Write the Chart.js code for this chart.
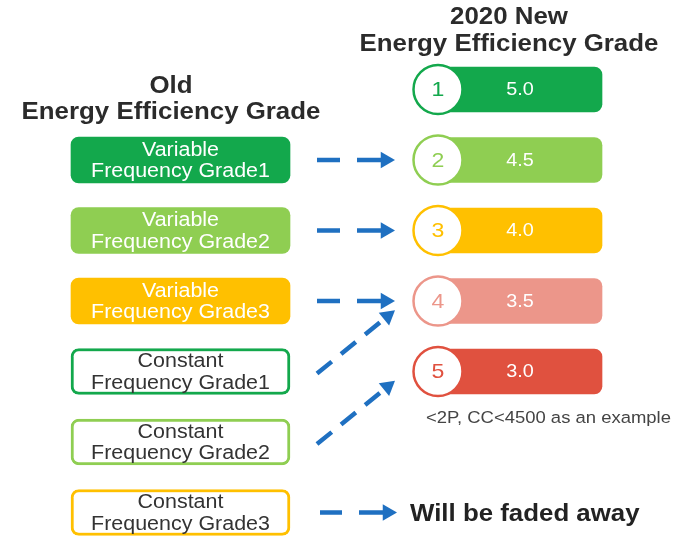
<!DOCTYPE html>
<html>
<head>
<meta charset="utf-8">
<title>Energy Efficiency Grade</title>
<script src="https://cdn.jsdelivr.net/npm/chart.js@4.4.1/dist/chart.umd.min.js"></script>
<style>
    html, body { margin: 0; padding: 0; background: #fff; }
    #grade-wrap { position: relative; width: 682px; height: 536px; }
</style>
</head>
<body>
<div id="grade-wrap"><canvas id="grade-chart"></canvas></div>
<script>
// old grades (left column)
var oldGrades = [
    ['Variable', 'Frequency Grade1'],
    ['Variable', 'Frequency Grade2'],
    ['Variable', 'Frequency Grade3'],
    ['Constant', 'Frequency Grade1'],
    ['Constant', 'Frequency Grade2'],
    ['Constant', 'Frequency Grade3']
];
// 2020 new grades (right column)
var newGrades = ['1', '2', '3', '4', '5'];
var newValues = [5.0, 4.5, 4.0, 3.5, 3.0];
// new grade index each old grade moves to, null = faded away
var oldToNew = [1, 2, 3, 3, 4, null];

var oldTitle = ['Old', 'Energy Efficiency Grade'];
var newTitle = ['2020 New', 'Energy Efficiency Grade'];
var fadedText = 'Will be faded away';
var noteText = '<2P, CC<4500 as an example';

// colours
var gradeColors = ['#13a84c', '#8fce52', '#ffc000', '#ec968a', '#e0513f'];
var arrowBlue = '#1f70c1';
var FONT = '"Liberation Sans", Arial, sans-serif';

// layout: one y unit = one row, left row i at i, new grade j at j - 1
var ROW_PX = 70.5;
var ROW0_PX = 160;
var H = 536, W = 682;

function oldColor(i) {
    return gradeColors[i % 3];
}

var oldBoxes = oldGrades.map(function (g, i) {
    return { x: [71, 290], y: i };
});
var newBoxes = newValues.map(function (v, j) {
    return { x: [428, 602], y: j - 1 };
});
var newCircles = newGrades.map(function (g, j) {
    return { x: 438, y: j - 1 };
});

var datasets = [];

datasets.push({
    type: 'bar',
    indexAxis: 'y',
    grouped: false,
    order: 3,
    data: oldBoxes,
    backgroundColor: oldGrades.map(function (g, i) { return g[0] === 'Variable' ? oldColor(i) : '#fff'; }),
    borderColor: oldGrades.map(function (g, i) { return oldColor(i); }),
    borderWidth: oldGrades.map(function (g) { return g[0] === 'Variable' ? 0 : 3; }),
    borderSkipped: false,
    borderRadius: 8,
    barThickness: 46,
    maxBarThickness: 46
});

datasets.push({
    type: 'bar',
    indexAxis: 'y',
    grouped: false,
    order: 3,
    data: newBoxes,
    backgroundColor: gradeColors,
    borderWidth: 0,
    borderSkipped: false,
    borderRadius: 8,
    barThickness: 45,
    maxBarThickness: 45
});

datasets.push({
    type: 'line',
    order: 2,
    data: newCircles,
    showLine: false,
    pointRadius: 24.5,
    pointHoverRadius: 24.5,
    pointBackgroundColor: '#fff',
    pointBorderColor: gradeColors,
    pointBorderWidth: 2.5
});

// arrows old -> new
oldToNew.forEach(function (target, i) {
    var from, tip, dash;
    if (target === null) {
        from = { x: 320, y: i };
        tip = { x: 397, y: i };
        dash = [22, 17, 40];
    } else if (target - 1 === i) {
        from = { x: 317, y: i };
        tip = { x: 395, y: i };
        dash = [23, 17, 40];
    } else {
        from = { x: 317, y: i + 0.03 };
        tip = { x: 395, y: target - 1 + 0.13 };
        dash = [19, 12];
    }
    var dx = tip.x - from.x;
    var dy = (tip.y - from.y) * ROW_PX;
    var len = Math.sqrt(dx * dx + dy * dy);
    var head = 9.5;
    var end = { x: tip.x - head * dx / len, y: tip.y - head * dy / len / ROW_PX };
    var rot = Math.atan2(dx, -dy) * 180 / Math.PI;

    datasets.push({
        type: 'line',
        order: 1,
        data: [from, end],
        borderColor: arrowBlue,
        borderWidth: 4.5,
        borderDash: dash,
        borderCapStyle: 'butt',
        tension: 0,
        fill: false,
        pointStyle: 'triangle',
        pointRadius: [0, head],
        pointHoverRadius: [0, head],
        pointRotation: [0, rot],
        pointBackgroundColor: arrowBlue,
        pointBorderWidth: 0
    });
});

// the reference text runs a bit wider than Arial
function wideText(ctx, text, x, y, align) {
    ctx.save();
    ctx.translate(x, y);
    ctx.scale(1.1, 1);
    ctx.textAlign = align || 'center';
    ctx.textBaseline = 'middle';
    ctx.fillText(text, 0, 0);
    ctx.restore();
}

var textPlugin = {
    id: 'gradeText',
    afterDatasetsDraw: function (chart) {
        var ctx = chart.ctx;
        var xs = chart.scales.x;
        var ys = chart.scales.y;

        // titles
        ctx.fillStyle = '#2b2b2b';
        ctx.font = 'bold 23.5px ' + FONT;
        wideText(ctx, newTitle[0], 509, 18);
        wideText(ctx, newTitle[1], 509, 45);
        wideText(ctx, oldTitle[0], 171, 87);
        wideText(ctx, oldTitle[1], 171, 113);

        // old box labels
        ctx.font = '19.5px ' + FONT;
        oldGrades.forEach(function (g, i) {
            var cx = xs.getPixelForValue(180.5);
            var cy = ys.getPixelForValue(i);
            ctx.fillStyle = g[0] === 'Variable' ? '#fff' : '#333';
            wideText(ctx, g[0], cx, cy - 9.5);
            wideText(ctx, g[1], cx, cy + 12);
        });

        // new grade numbers and values
        newGrades.forEach(function (g, j) {
            var cy = ys.getPixelForValue(j - 1);
            ctx.font = '21px ' + FONT;
            ctx.fillStyle = gradeColors[j];
            wideText(ctx, g, xs.getPixelForValue(438), cy + 1);
            ctx.font = '18px ' + FONT;
            ctx.fillStyle = '#fff';
            wideText(ctx, newValues[j].toFixed(1), xs.getPixelForValue(520), cy + 1);
        });

        // footnote
        ctx.font = '16.8px ' + FONT;
        ctx.fillStyle = '#444';
        wideText(ctx, noteText, xs.getPixelForValue(426), ys.getPixelForValue(3) + 46.5, 'left');

        // faded away
        ctx.font = 'bold 23.5px ' + FONT;
        ctx.fillStyle = '#222';
        wideText(ctx, fadedText, xs.getPixelForValue(410), ys.getPixelForValue(oldGrades.length - 1) + 2, 'left');
    }
};

var config = {
    type: 'bar',
    data: { datasets: datasets },
    options: {
        responsive: true,
        maintainAspectRatio: false,
        animation: false,
        events: [],
        layout: { padding: 0, autoPadding: false },
        plugins: {
            legend: { display: false },
            tooltip: { enabled: false },
            title: { display: false }
        },
        scales: {
            x: {
                type: 'linear',
                min: 0,
                max: W,
                offset: false,
                display: false
            },
            y: {
                type: 'linear',
                axis: 'y',
                min: -ROW0_PX / ROW_PX,
                max: (H - ROW0_PX) / ROW_PX,
                reverse: true,
                offset: false,
                display: false,
                ticks: { stepSize: 1, includeBounds: false }
            }
        }
    },
    plugins: [textPlugin]
};

var gradeChart = new Chart(document.getElementById('grade-chart'), config);
</script>
</body>
</html>
